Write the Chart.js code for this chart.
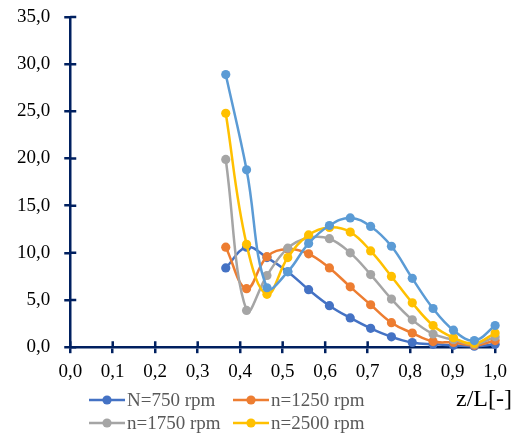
<!DOCTYPE html>
<html>
<head>
<meta charset="utf-8">
<script src="https://cdn.jsdelivr.net/npm/chart.js@4/dist/chart.umd.min.js"></script>
<style>
  html, body { margin: 0; padding: 0; background: #fff; }
  #wrap { width: 514px; height: 435px; }
</style>
</head>
<body>
<div id="wrap"><canvas id="mycanvas" width="514" height="435"></canvas></div>
<script>
// z/L positions of the measuring points
var zL = [0.366, 0.415, 0.463, 0.512, 0.561, 0.610, 0.659, 0.707, 0.756, 0.805, 0.854, 0.902, 0.951, 1.000];

var n750  = [8.4, 10.6, 9.5, 8.0, 6.1, 4.4, 3.1, 2.0, 1.1, 0.5, 0.3, 0.2, 0.1, 0.3];
var n1250 = [10.6, 6.2, 9.6, 10.4, 9.9, 8.4, 6.4, 4.5, 2.6, 1.5, 0.6, 0.5, 0.2, 0.7];
var n1750 = [19.9, 3.9, 7.6, 10.5, 11.6, 11.5, 10.0, 7.7, 5.1, 2.9, 1.4, 0.8, 0.3, 1.1];
var n2500 = [24.8, 10.9, 5.6, 9.5, 11.9, 12.7, 12.2, 10.2, 7.5, 4.7, 2.3, 1.0, 0.4, 1.5];
var n3000 = [28.9, 18.8, 6.3, 8.0, 11.0, 12.9, 13.7, 12.8, 10.7, 7.3, 4.1, 1.8, 0.7, 2.3];

var seriesNames = ['N=750 rpm', 'n=1250 rpm', 'n=1750 rpm', 'n=2500 rpm', 'n=3000 rpm'];
var seriesColors = ['#4472C4', '#ED7D31', '#A5A5A5', '#FFC000', '#5B9BD5'];
var seriesValues = [n750, n1250, n1750, n2500, n3000];

var axisColor = '#002060';
var serif = '"Liberation Serif", "Times New Roman", serif';

function toPoints(vals) {
  var pts = [];
  for (var i in vals) pts.push({x: zL[i], y: vals[i]});
  return pts;
}

function comma(v) { return Number(v).toFixed(1).replace('.', ','); }

var datasets = [];
for (var s = 0; s < seriesValues.length; s++) {
  datasets.push({
    label: seriesNames[s],
    data: toPoints(seriesValues[s]),
    borderColor: seriesColors[s],
    backgroundColor: seriesColors[s],
    pointBackgroundColor: seriesColors[s],
    pointBorderWidth: 0,
    pointRadius: 4.6,
    borderWidth: 2.5,
    tension: 0.4,
    clip: false,
    order: seriesValues.length - s   // later series on top
  });
}

// ticks that cross the axis line (inner half)
var crossTicks = {
  id: 'crossTicks',
  beforeDatasetsDraw: function(chart) {
    var ctx = chart.ctx, x = chart.scales.x, y = chart.scales.y;
    ctx.save();
    ctx.strokeStyle = axisColor;
    ctx.lineWidth = 2.5;
    ctx.beginPath();
    x.ticks.forEach(function(t) {
      var px = x.getPixelForValue(t.value);
      ctx.moveTo(px, x.top); ctx.lineTo(px, x.top - 6);
    });
    y.ticks.forEach(function(t) {
      var py = y.getPixelForValue(t.value);
      ctx.moveTo(y.right, py); ctx.lineTo(y.right + 6, py);
    });
    ctx.stroke();
    ctx.restore();
  }
};

// two-column legend under the axis plus the axis name
var legendBox = {
  id: 'legendBox',
  afterDraw: function(chart) {
    var ctx = chart.ctx;
    var cols = [89, 233], rows = [400, 423];
    ctx.save();
    ctx.font = '19px ' + serif;
    ctx.textBaseline = 'middle';
    for (var i = 0; i < 4; i++) {
      var ds = chart.data.datasets[i];
      var lx = cols[i % 2], ly = rows[Math.floor(i / 2)];
      ctx.strokeStyle = ds.borderColor;
      ctx.lineWidth = 2.5;
      ctx.beginPath(); ctx.moveTo(lx, ly); ctx.lineTo(lx + 36, ly); ctx.stroke();
      ctx.fillStyle = ds.borderColor;
      ctx.beginPath(); ctx.arc(lx + 18, ly, 4.6, 0, Math.PI * 2); ctx.fill();
      ctx.fillStyle = '#595959';
      ctx.textAlign = 'left';
      ctx.fillText(ds.label, lx + 38, ly + 1);
    }
    ctx.fillStyle = '#000';
    ctx.font = '24px ' + serif;
    ctx.textAlign = 'right';
    ctx.fillText('z/L[-]', 512, 400);
    ctx.restore();
  }
};

var ctx = document.getElementById('mycanvas');
var lineChart = new Chart(ctx, {
  type: 'line',
  data: { datasets: datasets },
  plugins: [crossTicks, legendBox],
  options: {
    responsive: false,
    animation: false,
    layout: { padding: { left: 3, right: 17, top: 17, bottom: 45 } },
    plugins: {
      legend: { display: false },
      tooltip: { enabled: false }
    },
    scales: {
      x: {
        type: 'linear',
        min: 0, max: 1,
        ticks: {
          stepSize: 0.1,
          padding: 7,
          color: '#000',
          font: { family: serif, size: 19 },
          maxRotation: 0,
          callback: function(v) { return comma(v); }
        },
        grid: { drawOnChartArea: false, drawTicks: true, tickLength: 6, color: axisColor, lineWidth: 2.5 },
        border: { display: true, color: axisColor, width: 2.5 }
      },
      y: {
        min: 0, max: 35,
        afterFit: function(scale) { scale.paddingTop = 0; },
        ticks: {
          stepSize: 5,
          padding: 14,
          color: '#000',
          font: { family: serif, size: 19 },
          callback: function(v) { return comma(v); }
        },
        grid: { drawOnChartArea: false, drawTicks: true, tickLength: 6, color: axisColor, lineWidth: 2.5 },
        border: { display: true, color: axisColor, width: 2.5 }
      }
    }
  }
});
</script>
</body>
</html>
